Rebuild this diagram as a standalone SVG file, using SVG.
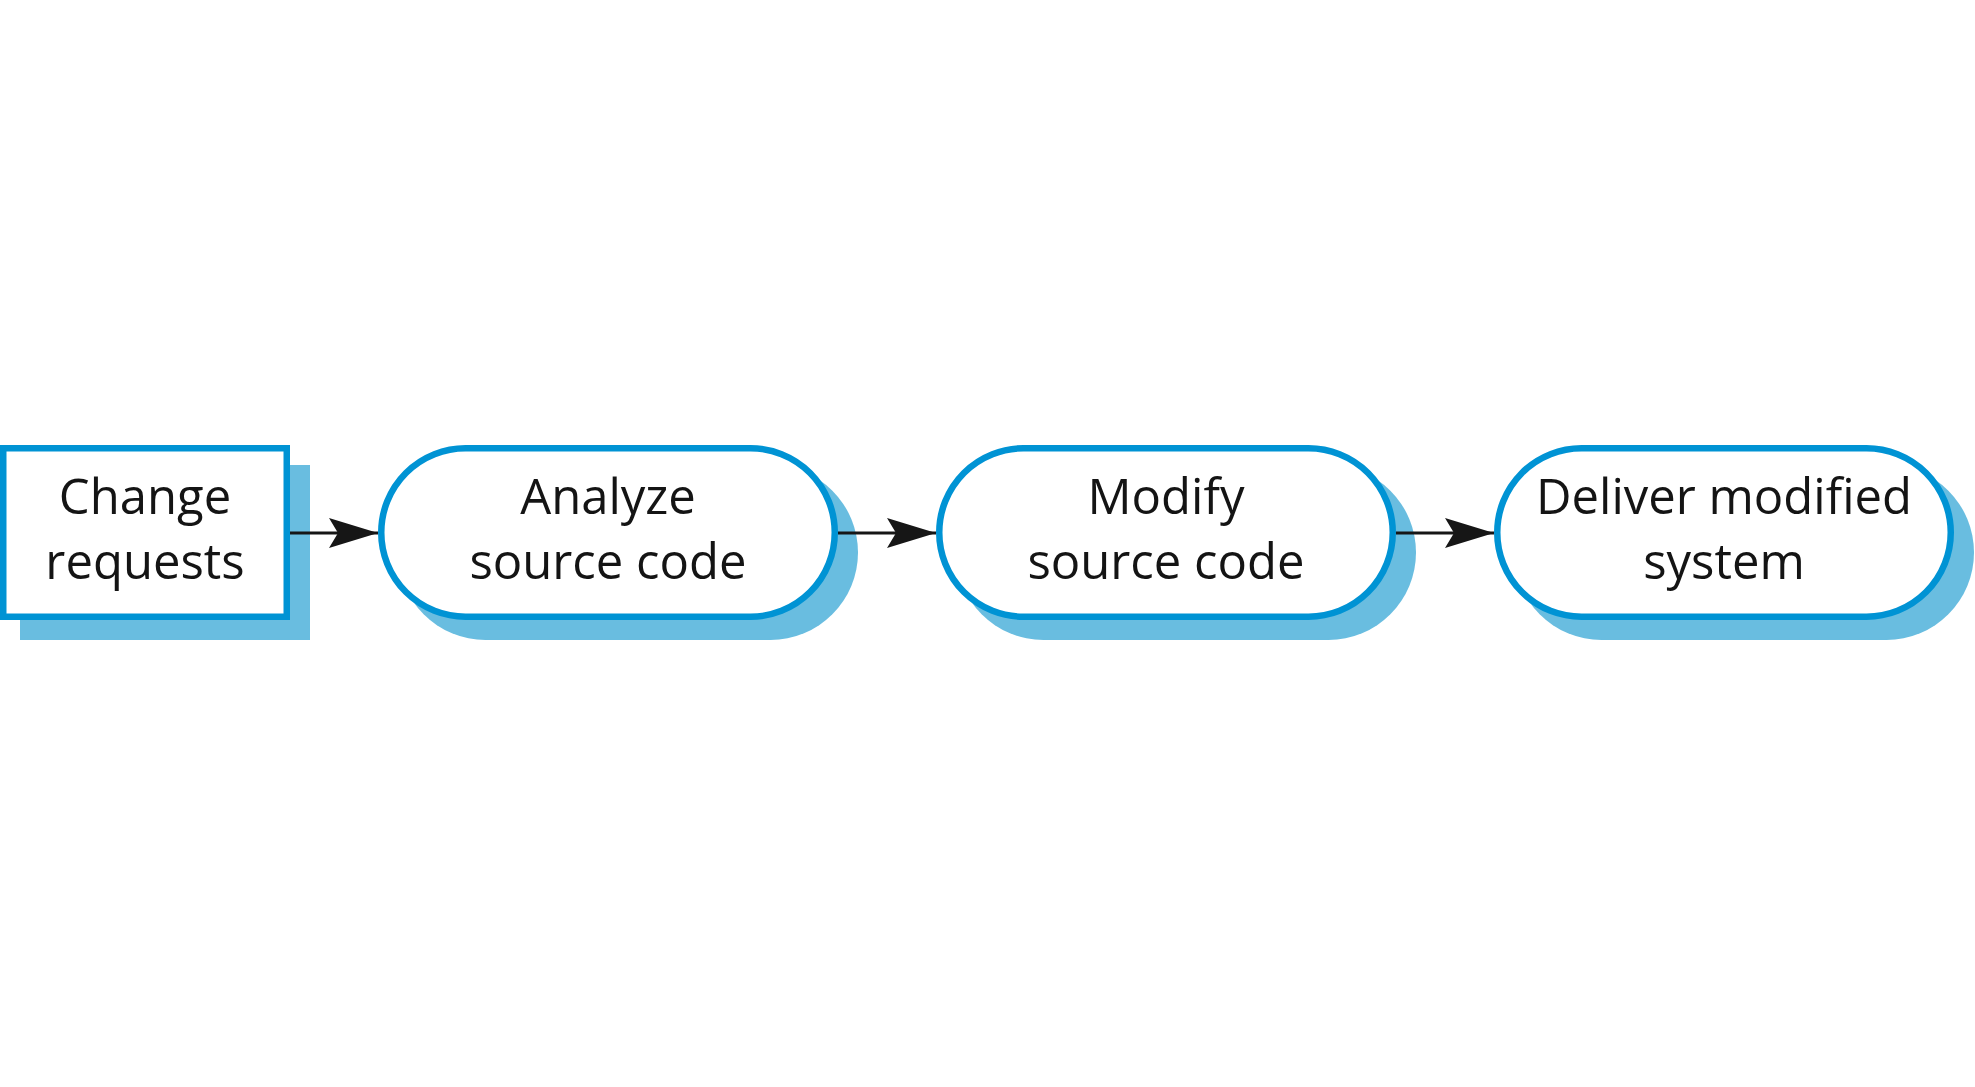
<svg xmlns="http://www.w3.org/2000/svg" width="1975" height="1087" viewBox="0 0 1975 1087">
  <defs>
    <style>
      .shadow { fill: #69bde0; stroke: none; }
      .box { fill: #ffffff; stroke: #0093d4; stroke-width: 6.5; }
      .label { font-family: "Open Sans", "Noto Sans", "Liberation Sans", sans-serif; font-size: 49px; fill: #141414; text-anchor: middle; }
      .conn { stroke: #161616; stroke-width: 3; fill: none; }
    </style>
    <marker id="arrow" markerUnits="userSpaceOnUse" markerWidth="50" markerHeight="32" refX="49" refY="15" orient="auto">
      <path d="M0,0 L49,15 L0,30 L9,15 Z" fill="#161616"/>
    </marker>
  </defs>
  <rect width="1975" height="1087" fill="#ffffff"/>

  <g id="change-requests">
    <rect class="shadow" x="20" y="465" width="290" height="175"/>
    <rect class="box" x="3.25" y="448.25" width="283.5" height="168.5"/>
    <text class="label" x="145" y="514">Change</text>
    <text class="label" x="145" y="579">requests</text>
  </g>

  <g id="analyze-source-code">
    <rect class="shadow" x="398" y="465" width="460" height="175" rx="87.5" ry="87.5"/>
    <rect class="box" x="381.25" y="448.25" width="453.5" height="168.5" rx="84.25" ry="84.25"/>
    <text class="label" x="608" y="514">Analyze</text>
    <text class="label" x="608" y="579">source code</text>
  </g>

  <g id="modify-source-code">
    <rect class="shadow" x="956" y="465" width="460" height="175" rx="87.5" ry="87.5"/>
    <rect class="box" x="939.25" y="448.25" width="453.5" height="168.5" rx="84.25" ry="84.25"/>
    <text class="label" x="1166" y="514">Modify</text>
    <text class="label" x="1166" y="579">source code</text>
  </g>

  <g id="deliver-modified-system">
    <rect class="shadow" x="1514" y="465" width="460" height="175" rx="87.5" ry="87.5"/>
    <rect class="box" x="1497.25" y="448.25" width="453.5" height="168.5" rx="84.25" ry="84.25"/>
    <text class="label" x="1724" y="514">Deliver modified</text>
    <text class="label" x="1724" y="579">system</text>
  </g>

  <g id="connectors">
    <line class="conn" x1="290" y1="533" x2="378" y2="533" marker-end="url(#arrow)"/>
    <line class="conn" x1="838" y1="533" x2="936" y2="533" marker-end="url(#arrow)"/>
    <line class="conn" x1="1396" y1="533" x2="1494" y2="533" marker-end="url(#arrow)"/>
  </g>
</svg>
